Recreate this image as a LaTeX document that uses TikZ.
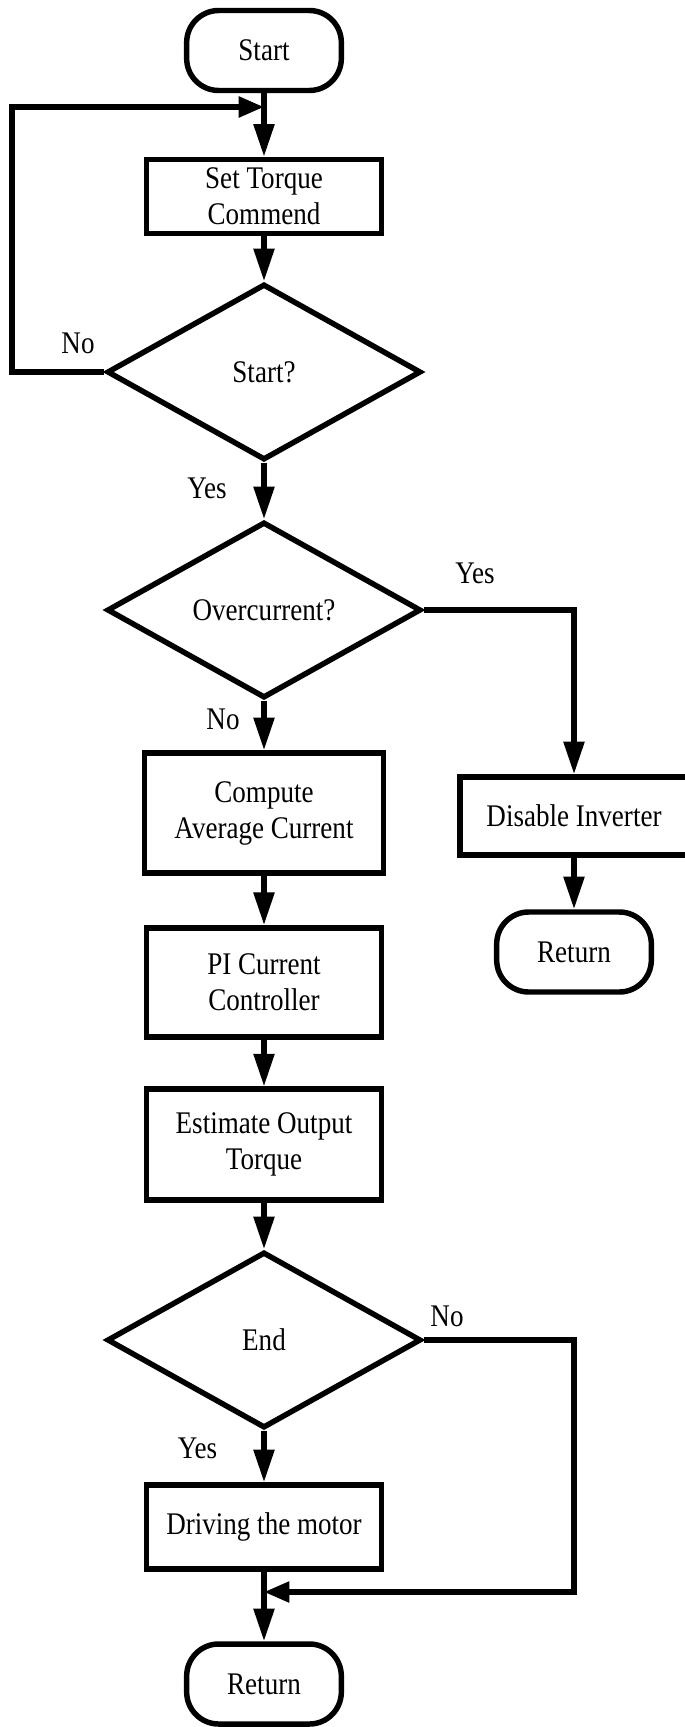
\documentclass[tikz,border=0pt]{standalone}
\usepackage{fontspec}
\setmainfont{Liberation Serif}[FakeStretch=0.86]
\usetikzlibrary{shapes.geometric,arrows.meta}
\tikzset{
	proc/.style={draw, line width=4.1pt, minimum width=176.6pt, align=center, inner sep=0pt},
	term/.style={draw, line width=4.1pt, rounded corners=24pt, minimum width=116pt, minimum height=60pt},
	decide/.style={draw, diamond, aspect=1.8, line width=4.1pt, minimum width=235.5pt, minimum height=132pt, inner sep=0pt},
	flow/.style={line width=4.1pt, -{Triangle[length=24.5pt,width=15pt]}},
	back/.style={line width=4.1pt, -{Triangle[length=19pt,width=15pt]}}
}

\begin{document}
\begin{tikzpicture}[x=0.75pt,y=0.75pt,yscale=-1,xscale=1,font=\fontsize{23.6}{27}\selectfont]
\useasboundingbox (0,0) rectangle (685,1727); %page as large as the diagram

\node[term] (start) at (264,50.5) {Start};
\node[proc, minimum height=55.5pt] (settq) at (264,196.5) {Set Torque\\Commend};
\node[decide] (isstart) at (264,372) {Start?};
\node[decide] (overc) at (264,610) {Overcurrent?};
\node[proc, minimum width=179pt, minimum height=90pt] (avg) at (264,813) {Compute\\Average Current};
\node[proc, minimum height=82pt] (pictrl) at (264,982.5) {PI Current\\Controller};
\node[proc, minimum height=83pt] (estim) at (264,1144.5) {Estimate Output\\Torque};
\node[decide] (isend) at (264,1340) {End};
\node[proc, minimum height=63pt] (drive) at (264,1527) {Driving the motor};
\node[term] (ret) at (264,1684) {Return};
\node[proc, minimum width=171pt, minimum height=58.5pt] (disable) at (574,816) {Disable Inverter};
\node[term] (ret2) at (574,952) {Return};

\node (nostart) at (78,343) {No};
\node (yesstart) at (207,488) {Yes};
\node (yesoc) at (475,573) {Yes};
\node (nooc) at (223,719) {No};
\node (noend) at (447,1316) {No};
\node (yesend) at (197.5,1448) {Yes};

\coordinate (loopa) at (12,107);
\coordinate (joina) at (264,107);
\coordinate (loopb) at (574,1592);
\coordinate (joinb) at (264,1592);

\draw[flow] (start) -- (settq);
\draw[flow] (settq) -- (isstart);
\draw[flow] (isstart) -- (overc);
\draw[flow] (overc) -- (avg);
\draw[flow] (avg) -- (pictrl);
\draw[flow] (pictrl) -- (estim);
\draw[flow] (estim) -- (isend);
\draw[flow] (isend) -- (drive);
\draw[flow] (drive) -- (ret);
\draw[flow] (disable) -- (ret2);
\draw[flow] (overc.east) -| (disable.north);

\draw[back] (isstart.west) -| (loopa) -- (joina);
\draw[back] (isend.east) -| (loopb) -- (joinb);
\end{tikzpicture}
\end{document}
